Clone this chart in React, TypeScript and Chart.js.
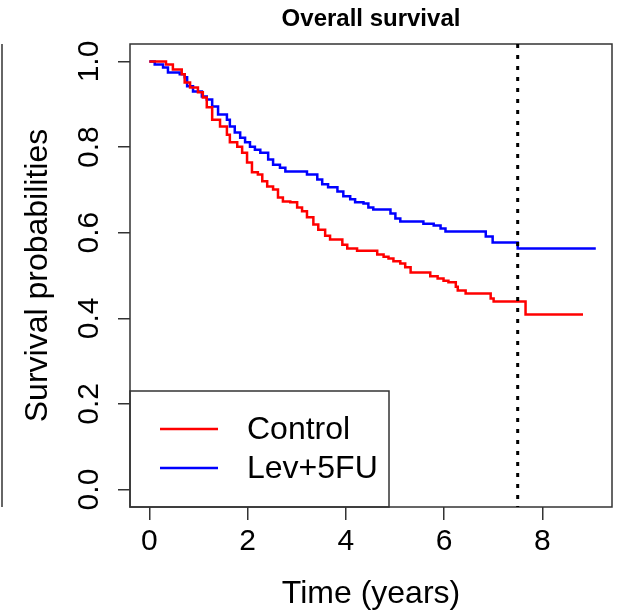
import React, { useEffect, useRef } from 'react';
import { Chart, registerables } from 'chart.js';
Chart.register(...registerables);

const chartTitle = 'Overall survival';
const xAxisTitle = 'Time (years)';
const yAxisTitle = 'Survival probabilities';
const xTicks = [0, 2, 4, 6, 8];
const yTicks = [0, 0.2, 0.4, 0.6, 0.8, 1.0];
const seriesNames = ['Control', 'Lev+5FU'];
const seriesColors = ['#FF0000', '#0000FF'];
const referenceTime = 7.5;

const controlTimes = [0, 0.34, 0.48, 0.66, 0.72, 0.83, 0.99, 1.09, 1.17, 1.28, 1.44, 1.58, 1.64, 1.79, 1.89, 1.99, 2.09, 2.21, 2.3, 2.4, 2.52, 2.62, 2.72, 2.87, 3.01, 3.11, 3.21, 3.34, 3.44, 3.58, 3.68, 3.93, 4.03, 4.23, 4.64, 4.77, 4.87, 4.97, 5.11, 5.21, 5.32, 5.72, 5.87, 5.99, 6.09, 6.24, 6.28, 6.44, 6.95, 7.01, 7.66, 8.83];
const controlSurv = [1.0, 0.993, 0.981, 0.97, 0.951, 0.939, 0.928, 0.916, 0.893, 0.864, 0.848, 0.829, 0.811, 0.801, 0.787, 0.764, 0.741, 0.736, 0.72, 0.708, 0.701, 0.682, 0.673, 0.671, 0.659, 0.65, 0.636, 0.619, 0.607, 0.593, 0.584, 0.572, 0.563, 0.558, 0.549, 0.544, 0.54, 0.533, 0.528, 0.519, 0.507, 0.498, 0.493, 0.488, 0.484, 0.474, 0.465, 0.458, 0.446, 0.439, 0.409, 0.409];

const levTimes = [0, 0.11, 0.28, 0.38, 0.62, 0.72, 0.77, 0.89, 1.07, 1.17, 1.28, 1.4, 1.58, 1.64, 1.74, 1.85, 1.95, 2.05, 2.15, 2.26, 2.42, 2.52, 2.66, 2.77, 3.21, 3.42, 3.52, 3.64, 3.83, 3.95, 4.09, 4.19, 4.36, 4.46, 4.56, 4.91, 5.01, 5.11, 5.58, 5.79, 5.93, 6.03, 6.85, 6.99, 7.5, 9.09];
const levSurv = [1.0, 0.993, 0.986, 0.974, 0.97, 0.963, 0.942, 0.93, 0.918, 0.911, 0.895, 0.876, 0.864, 0.848, 0.834, 0.822, 0.811, 0.801, 0.794, 0.787, 0.771, 0.759, 0.752, 0.743, 0.736, 0.724, 0.713, 0.706, 0.696, 0.685, 0.678, 0.671, 0.668, 0.659, 0.654, 0.645, 0.633, 0.626, 0.621, 0.617, 0.61, 0.603, 0.591, 0.577, 0.563, 0.563];

const FONT = '"Liberation Sans", Arial, Helvetica, sans-serif';

export default function App() {
  const ref = useRef<HTMLCanvasElement>(null);

  useEffect(() => {
    const canvas = ref.current;
    if (!canvas) return;

    const rStylePlugin = {
      id: 'rStyle',
      afterDraw(chart: any) {
        const ctx = chart.ctx as CanvasRenderingContext2D;
        const { left, right, top, bottom } = chart.chartArea;
        const xs = chart.scales.x;
        const ys = chart.scales.y;
        ctx.save();

        // rotated y tick labels (R style, parallel to axis)
        ctx.fillStyle = '#000';
        ctx.font = `30px ${FONT}`;
        ctx.textAlign = 'center';
        ctx.textBaseline = 'middle';
        ys.ticks.forEach((t: any) => {
          const py = ys.getPixelForValue(t.value);
          ctx.save();
          ctx.translate(90, py);
          ctx.rotate(-Math.PI / 2);
          ctx.fillText(Number(t.value).toFixed(1), 0, 0);
          ctx.restore();
        });

        // plot box
        ctx.strokeStyle = '#333';
        ctx.lineWidth = 1.5;
        ctx.strokeRect(left, top, right - left, bottom - top);

        // edge of neighbouring panel
        ctx.beginPath();
        ctx.moveTo(2, top);
        ctx.lineTo(2, bottom);
        ctx.stroke();

        // dotted reference line
        const rx = xs.getPixelForValue(referenceTime);
        ctx.save();
        ctx.setLineDash([4, 7]);
        ctx.lineWidth = 3;
        ctx.strokeStyle = '#000';
        ctx.beginPath();
        ctx.moveTo(rx, top);
        ctx.lineTo(rx, bottom);
        ctx.stroke();
        ctx.restore();

        // legend (bottom-left)
        const lw = 259;
        const lh = 116;
        ctx.strokeStyle = '#333';
        ctx.lineWidth = 1.5;
        ctx.strokeRect(left, bottom - lh, lw, lh);
        const rows = [bottom - 78, bottom - 39];
        chart.data.datasets.forEach((ds: any, i: number) => {
          const y = rows[i];
          ctx.strokeStyle = ds.borderColor;
          ctx.lineWidth = 2.5;
          ctx.beginPath();
          ctx.moveTo(left + 30, y);
          ctx.lineTo(left + 88, y);
          ctx.stroke();
          ctx.fillStyle = '#000';
          ctx.font = `32px ${FONT}`;
          ctx.textAlign = 'left';
          ctx.textBaseline = 'middle';
          ctx.fillText(ds.label, left + 117, y + 1);
        });

        ctx.restore();
      },
    };

    const chart = new Chart(canvas, {
      type: 'line',
      data: {
        datasets: [
          {
            label: seriesNames[0],
            data: controlTimes.map((t, i) => ({ x: t, y: controlSurv[i] })),
            borderColor: seriesColors[0],
            borderWidth: 2.5,
            pointRadius: 0,
            stepped: 'before',
            fill: false,
          },
          {
            label: seriesNames[1],
            data: levTimes.map((t, i) => ({ x: t, y: levSurv[i] })),
            borderColor: seriesColors[1],
            borderWidth: 2.5,
            pointRadius: 0,
            stepped: 'before',
            fill: false,
          },
        ],
      },
      options: {
        animation: false,
        responsive: false,
        devicePixelRatio: 1,
        layout: { padding: { top: 0, right: 9, left: 0, bottom: 0 } },
        plugins: {
          legend: { display: false },
          tooltip: { enabled: false },
          title: {
            display: true,
            text: chartTitle,
            fullSize: false,
            color: '#000',
            font: { family: FONT, size: 24, weight: 'bold', lineHeight: 1.2 },
            padding: { top: 5.1, bottom: 10.1 },
          },
        },
        scales: {
          x: {
            type: 'linear',
            min: -0.393,
            max: 9.42,
            afterBuildTicks: (s: any) => {
              s.ticks = xTicks.map((v) => ({ value: v }));
            },
            afterFit: (s: any) => {
              s.height = 106;
            },
            border: { display: false },
            grid: {
              display: true,
              drawOnChartArea: false,
              drawTicks: true,
              tickLength: 13,
              color: '#333',
              lineWidth: 1.5,
            },
            ticks: {
              color: '#000',
              font: { family: FONT, size: 30 },
              padding: 4,
              maxRotation: 0,
              callback: (v: any) => String(v),
            },
            title: {
              display: true,
              text: xAxisTitle,
              color: '#000',
              font: { family: FONT, size: 32, lineHeight: 1.15 },
              padding: { top: 0, bottom: 0 },
            },
          },
          y: {
            type: 'linear',
            min: -0.0408,
            max: 1.0408,
            afterBuildTicks: (s: any) => {
              s.ticks = yTicks.map((v) => ({ value: v }));
            },
            afterFit: (s: any) => {
              s.width = 130;
            },
            border: { display: false },
            grid: {
              display: true,
              drawOnChartArea: false,
              drawTicks: true,
              tickLength: 12,
              color: '#333',
              lineWidth: 1.5,
            },
            ticks: {
              display: false,
              callback: (v: any) => Number(v).toFixed(1),
            },
            title: {
              display: true,
              text: yAxisTitle,
              color: '#000',
              font: { family: FONT, size: 32, lineHeight: 1.2 },
              padding: { top: 19, bottom: 0 },
            },
          },
        },
      },
      plugins: [rStylePlugin],
    } as any);

    return () => chart.destroy();
  }, []);

  return (
    <div style={{ position: 'fixed', left: 0, top: 0, width: 621, height: 613, background: '#fff' }}>
      <canvas ref={ref} width={621} height={613} style={{ width: 621, height: 613 }} />
    </div>
  );
}
